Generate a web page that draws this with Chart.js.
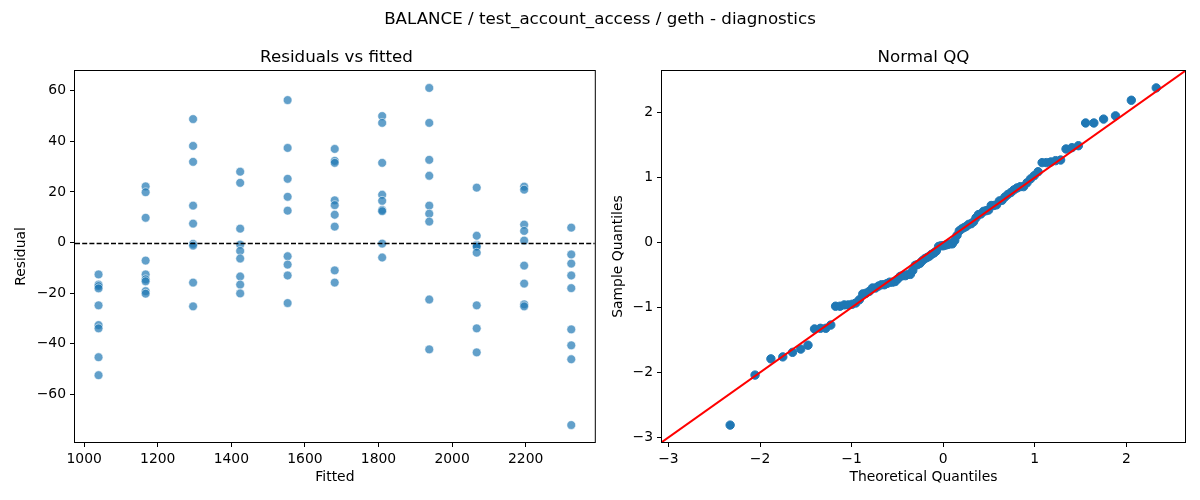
<!doctype html>
<html lang="en">
<head>
<meta charset="utf-8">
<title>BALANCE / test_account_access / geth - diagnostics</title>
<style>
  body { margin: 0; background: #fff; font-family: "DejaVu Sans", sans-serif; }
  #wrap { position: relative; width: 1200px; height: 500px; overflow: hidden; }
  .pane { position: absolute; top: 0; width: 600px; height: 500px; }
  .txt { position: absolute; color: #000; white-space: nowrap; line-height: 1; transform: translate(-50%, -50%); font-size: 16.7px; }
</style>
</head>
<body>
<div id="wrap">
  <div class="pane" style="left:0"><canvas id="resid" width="600" height="500"></canvas></div>
  <div class="pane" style="left:600px"><canvas id="qq" width="600" height="500"></canvas></div>
  <div class="txt" style="left:600px;top:18px">BALANCE / test_account_access / geth - diagnostics</div>
  <div class="txt" style="left:336.5px;top:56px">Residuals vs fitted</div>
  <div class="txt" style="left:923.5px;top:56px">Normal QQ</div>
</div>

<script src="https://cdn.jsdelivr.net/npm/chart.js"></script>
<script>
// fitted value of each group, and the residuals seen at that fitted value
const fittedLevels = [1039, 1167, 1296, 1424, 1553, 1681, 1810, 1938, 2067, 2196, 2324];
const residualGroups = [
    [-12.6, -16.6, -17.2, -18.1, -24.8, -32.6, -33.9, -45.3, -52.4],
    [22.2, 19.9, 9.8, -7.1, -12.6, -14.5, -15.3, -19.2, -20.2],
    [48.8, 38.2, 31.9, 14.6, 7.5, -0.5, -1.2, -15.8, -25.2],
    [28.0, 23.6, 5.5, -0.8, -3.3, -6.3, -13.4, -16.6, -20.1],
    [56.3, 37.4, 25.2, 18.1, 12.6, -5.4, -8.7, -13.0, -23.9],
    [37.0, 32.3, 31.5, 16.7, 14.8, 11.0, 6.3, -11.0, -15.8],
    [50.0, 47.3, 31.5, 18.9, 16.5, 12.9, 12.4, -0.4, -5.9],
    [61.1, 47.3, 32.7, 26.4, 14.6, 11.4, 8.3, -22.5, -42.2],
    [21.7, 2.7, -0.9, -1.3, -1.6, -4.0, -24.8, -33.9, -43.4],
    [22.1, 20.9, 7.1, 4.6, 0.8, -9.1, -16.2, -24.4, -25.2],
    [5.9, -4.7, -8.3, -13.0, -18.0, -34.3, -40.6, -46.1, -72.1]
];
const fittedTicks = [1000, 1200, 1400, 1600, 1800, 2000, 2200];
const residualTicks = [-60, -40, -20, 0, 20, 40, 60];

// normal QQ
const theoreticalQ = [
    -2.326, -2.054, -1.881, -1.751, -1.645, -1.555, -1.476, -1.405, -1.341, -1.282,
    -1.227, -1.175, -1.126, -1.080, -1.036, -0.994, -0.954, -0.915, -0.878, -0.842,
    -0.806, -0.772, -0.739, -0.706, -0.674, -0.643, -0.613, -0.583, -0.553, -0.524,
    -0.496, -0.468, -0.440, -0.412, -0.385, -0.358, -0.332, -0.305, -0.279, -0.253,
    -0.228, -0.202, -0.176, -0.151, -0.126, -0.100, -0.075, -0.050, -0.025, 0,
    0.025, 0.050, 0.075, 0.100, 0.126, 0.151, 0.176, 0.202, 0.228, 0.253,
    0.279, 0.305, 0.332, 0.358, 0.385, 0.412, 0.440, 0.468, 0.496, 0.524,
    0.553, 0.583, 0.613, 0.643, 0.674, 0.706, 0.739, 0.772, 0.806, 0.842,
    0.878, 0.915, 0.954, 0.994, 1.036, 1.080, 1.126, 1.175, 1.227, 1.282,
    1.341, 1.405, 1.476, 1.555, 1.645, 1.751, 1.881, 2.054, 2.326
];
const sampleQ = [
    -2.81, -2.04, -1.79, -1.76, -1.69, -1.64, -1.58, -1.33, -1.32, -1.32,
    -1.27, -0.98, -0.98, -0.96, -0.96, -0.95, -0.93, -0.88, -0.79, -0.78,
    -0.75, -0.70, -0.70, -0.67, -0.65, -0.65, -0.63, -0.61, -0.61, -0.60,
    -0.56, -0.52, -0.51, -0.51, -0.49, -0.49, -0.43, -0.35, -0.34, -0.32,
    -0.28, -0.25, -0.23, -0.21, -0.18, -0.16, -0.13, -0.06, -0.05, -0.05,
    -0.04, -0.03, -0.02, -0.02, 0.03, 0.11, 0.18, 0.21, 0.23, 0.25,
    0.28, 0.29, 0.32, 0.38, 0.43, 0.44, 0.48, 0.49, 0.50, 0.57,
    0.57, 0.58, 0.64, 0.65, 0.70, 0.74, 0.77, 0.81, 0.84, 0.86,
    0.86, 0.92, 0.98, 1.03, 1.09, 1.23, 1.23, 1.24, 1.26, 1.27,
    1.44, 1.46, 1.49, 1.84, 1.84, 1.90, 1.95, 2.19, 2.38
];
const qqTicks = [-3, -2, -1, 0, 1, 2];

const FONT = "'DejaVu Sans', sans-serif";

function fmt(v) {
    return v < 0 ? '\u2212' + Math.abs(v) : String(v);
}

// box around plot + reference lines (dashed zero / red 45 degree)
const framePlugin = {
    id: 'frame',
    afterDatasetsDraw(chart, args, opts) {
        const ctx = chart.ctx;
        const a = chart.chartArea;
        const xs = chart.scales.x, ys = chart.scales.y;
        ctx.save();
        ctx.beginPath();
        ctx.rect(a.left, a.top, a.right - a.left, a.bottom - a.top);
        ctx.clip();
        if (opts.zeroLine) {
            const py = Math.round(ys.getPixelForValue(0)) + 0.5;
            ctx.strokeStyle = '#000';
            ctx.lineWidth = 1.3;
            ctx.setLineDash([5, 2.2]);
            ctx.beginPath();
            ctx.moveTo(a.left, py);
            ctx.lineTo(a.right, py);
            ctx.stroke();
            ctx.setLineDash([]);
        }
        if (opts.diagonal) {
            const lo = Math.min(xs.min, ys.min), hi = Math.max(xs.max, ys.max);
            ctx.strokeStyle = '#ff0000';
            ctx.lineWidth = 2;
            ctx.beginPath();
            ctx.moveTo(xs.getPixelForValue(lo), ys.getPixelForValue(lo));
            ctx.lineTo(xs.getPixelForValue(hi), ys.getPixelForValue(hi));
            ctx.stroke();
        }
        ctx.restore();
        ctx.save();
        ctx.strokeStyle = '#000';
        ctx.lineWidth = 1;
        ctx.strokeRect(a.left - 0.5, a.top - 0.5, a.right - a.left + 1, a.bottom - a.top + 1);
        ctx.restore();
    }
};

function makeAxis(opt) {
    return {
        type: 'linear',
        position: opt.position,
        min: opt.min,
        max: opt.max,
        afterBuildTicks: s => { s.ticks = opt.ticks.map(v => ({ value: v })); },
        afterFit: s => {
            if (opt.position === 'left') s.width = opt.size; else s.height = opt.size;
        },
        grid: { display: true, drawOnChartArea: false, drawTicks: true, tickLength: 5, tickColor: '#000', tickWidth: 1 },
        border: { display: false },
        ticks: {
            color: '#000',
            padding: 4,
            autoSkip: false,
            maxRotation: 0,
            font: { family: FONT, size: 13.9 },
            callback: v => fmt(v)
        },
        title: {
            display: true,
            text: opt.title,
            color: '#000',
            font: { family: FONT, size: 13.9 },
            padding: { top: opt.titlePad, bottom: opt.titlePad }
        }
    };
}

const residPoints = [];
fittedLevels.forEach((f, i) => {
    residualGroups[i].forEach(r => residPoints.push({ x: f, y: r }));
});

new Chart(document.getElementById('resid'), {
    type: 'scatter',
    data: {
        datasets: [{
            data: residPoints,
            backgroundColor: 'rgba(31,119,180,0.7)',
            borderColor: 'rgba(255,255,255,0.7)',
            borderWidth: 0.8,
            pointRadius: 4.4,
            pointHoverRadius: 4.4
        }]
    },
    options: {
        responsive: false,
        animation: false,
        layout: { padding: { left: 0, top: 71, right: 2, bottom: 0 } },
        plugins: { legend: { display: false }, tooltip: { enabled: false }, frame: { zeroLine: true } },
        scales: {
            x: makeAxis({ position: 'bottom', min: 975, max: 2388, ticks: fittedTicks, size: 58, title: 'Fitted', titlePad: 14.5 }),
            y: makeAxis({ position: 'left', min: -78.8, max: 67.8, ticks: residualTicks, size: 75, title: 'Residual', titlePad: 13.4 })
        }
    },
    plugins: [framePlugin]
});

const qqPoints = theoreticalQ.map((t, i) => ({ x: t, y: sampleQ[i] }));

new Chart(document.getElementById('qq'), {
    type: 'scatter',
    data: {
        datasets: [{
            data: qqPoints,
            backgroundColor: '#1f77b4',
            borderColor: '#1f77b4',
            borderWidth: 1,
            pointRadius: 4.2,
            pointHoverRadius: 4.2
        }]
    },
    options: {
        responsive: false,
        animation: false,
        layout: { padding: { left: 0, top: 71, right: 15, bottom: 0 } },
        plugins: { legend: { display: false }, tooltip: { enabled: false }, frame: { diagonal: true } },
        scales: {
            x: makeAxis({ position: 'bottom', min: -3.07, max: 2.64, ticks: qqTicks, size: 58, title: 'Theoretical Quantiles', titlePad: 14.5 }),
            y: makeAxis({ position: 'left', min: -3.07, max: 2.64, ticks: qqTicks, size: 62, title: 'Sample Quantiles', titlePad: 9.7 })
        }
    },
    plugins: [framePlugin]
});
</script>
</body>
</html>
